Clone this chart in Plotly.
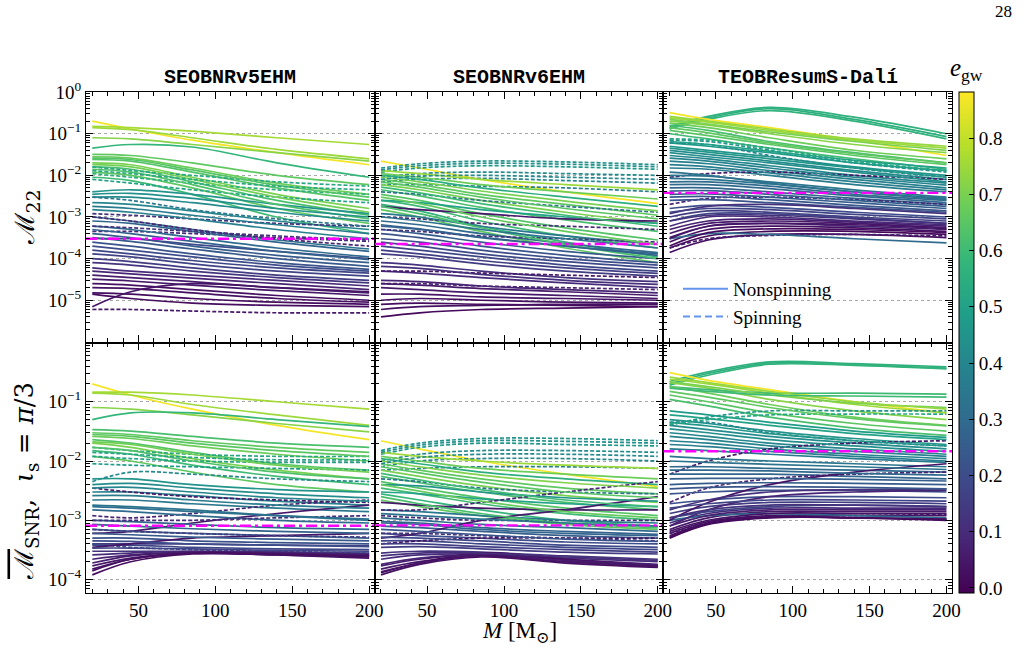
import plotly.graph_objects as go
from plotly.subplots import make_subplots
from plotly.colors import sample_colorscale

# ---------------- data ----------------
MASS = [20, 45, 85, 140, 200]
MODELS = ["SEOBNRv5EHM", "SEOBNRv6EHM", "TEOBResumS-Dalí"]
E_MIN, E_MAX = -0.009, 0.882
CBAR_TICKS = [0, 0.1, 0.2, 0.3, 0.4, 0.5, 0.6, 0.7, 0.8]

# top row: M22 ; bottom row: Mbar_SNR (iota_s = pi/3)
MEDIAN_TOP = [3.0e-4, 2.25e-4, 3.8e-3]
MEDIAN_BOT = [8.1e-4, 8.2e-4, 1.46e-2]

# ---- SEOBNRv5EHM, M22 ----
ECC_V5_TOP = [0.87, 0.76, 0.75, 0.72, 0.58, 0.66, 0.68, 0.64, 0.70, 0.62, 0.66, 0.60, 0.52, 0.55, 0.50,
              0.45, 0.42, 0.40, 0.12, 0.38, 0.10, 0.33, 0.30, 0.25, 0.22, 0.18, 0.15, 0.10, 0.06, 0.03,
              0.02, 0.04, 0.02, 0.05, 0.20, 0.28, 0.08, 0.35,
              0.64, 0.69, 0.63, 0.53, 0.44, 0.36, 0.27, 0.24, 0.20, 0.17, 0.13, 0.08, 0.05, 0.03, 0.12]
SPIN_V5_TOP = [0, 0, 0, 0, 0, 0, 0, 0, 0, 0, 0, 0, 1, 1, 1,
               0, 0, 0, 1, 0, 1, 0, 0, 0, 0, 0, 0, 0, 0, 0,
               0, 0, 0, 1, 0, 0, 1, 1,
               0, 0, 0, 1, 0, 0, 0, 0, 0, 0, 0, 0, 0, 0, 1]
VAL_V5_TOP = [
    [2.0e-1, 1.3e-1, 7.0e-2, 3.5e-2, 1.8e-2],
    [1.5e-1, 1.4e-1, 1.15e-1, 8.0e-2, 5.5e-2],
    [1.4e-1, 1.25e-1, 8.0e-2, 4.2e-2, 2.5e-2],
    [8.0e-2, 7.5e-2, 5.5e-2, 3.5e-2, 2.2e-2],
    [4.5e-2, 5.5e-2, 4.8e-2, 2.0e-2, 9.0e-3],
    [3.2e-2, 3.0e-2, 2.0e-2, 1.0e-2, 6.0e-3],
    [2.8e-2, 2.6e-2, 1.5e-2, 6.5e-3, 3.5e-3],
    [2.4e-2, 2.2e-2, 1.2e-2, 5.0e-3, 2.5e-3],
    [2.0e-2, 1.8e-2, 9.0e-3, 3.5e-3, 1.6e-3],
    [1.6e-2, 1.4e-2, 7.0e-3, 2.5e-3, 1.1e-3],
    [1.2e-2, 1.0e-2, 5.0e-3, 1.6e-3, 7.0e-4],
    [9.0e-3, 7.5e-3, 3.5e-3, 1.0e-3, 4.0e-4],
    [1.6e-2, 1.3e-2, 1.0e-2, 7.0e-3, 5.5e-3],
    [1.1e-2, 9.0e-3, 6.5e-3, 4.5e-3, 3.5e-3],
    [8.0e-3, 6.5e-3, 4.5e-3, 3.0e-3, 2.2e-3],
    [4.0e-3, 4.5e-3, 3.5e-3, 2.0e-3, 1.2e-3],
    [3.0e-3, 3.0e-3, 2.2e-3, 1.3e-3, 8.0e-4],
    [2.2e-3, 2.0e-3, 1.4e-3, 8.0e-4, 5.0e-4],
    [1.2e-3, 1.1e-3, 9.0e-4, 7.0e-4, 6.0e-4],
    [1.5e-3, 1.3e-3, 9.0e-4, 5.0e-4, 3.0e-4],
    [4.5e-4, 4.5e-4, 4.0e-4, 3.2e-4, 2.6e-4],
    [1.0e-3, 8.0e-4, 5.0e-4, 2.8e-4, 1.7e-4],
    [6.0e-4, 5.0e-4, 3.2e-4, 1.8e-4, 1.1e-4],
    [4.0e-4, 3.2e-4, 2.0e-4, 1.2e-4, 8.0e-5],
    [2.5e-4, 2.0e-4, 1.3e-4, 8.0e-5, 5.5e-5],
    [1.6e-4, 1.3e-4, 9.0e-5, 6.0e-5, 4.5e-5],
    [1.0e-4, 8.5e-5, 6.0e-5, 4.0e-5, 3.0e-5],
    [6.0e-5, 5.0e-5, 4.0e-5, 3.0e-5, 2.2e-5],
    [4.0e-5, 3.5e-5, 2.8e-5, 2.0e-5, 1.5e-5],
    [2.5e-5, 2.3e-5, 1.8e-5, 1.3e-5, 1.0e-5],
    [1.5e-5, 1.4e-5, 1.1e-5, 9.0e-6, 8.0e-6],
    [7.0e-6, 1.6e-5, 2.5e-5, 2.0e-5, 1.6e-5],
    [1.4e-5, 1.1e-5, 8.5e-6, 7.5e-6, 7.0e-6],
    [6.0e-6, 6.0e-6, 5.5e-6, 5.0e-6, 5.0e-6],
    [3.0e-4, 3.0e-4, 2.2e-4, 1.5e-4, 1.0e-4],
    [8.0e-4, 7.0e-4, 4.5e-4, 2.5e-4, 1.5e-4],
    [1.0e-3, 8.0e-4, 5.0e-4, 3.0e-4, 2.0e-4],
    [3.0e-3, 2.5e-3, 1.5e-3, 9.0e-4, 6.0e-4],
    [2.6e-2, 2.4e-2, 1.35e-2, 5.8e-3, 3.0e-3],
    [1.8e-2, 1.6e-2, 8.0e-3, 3.0e-3, 1.3e-3],
    [1.4e-2, 1.2e-2, 6.0e-3, 2.0e-3, 9.0e-4],
    [1.3e-2, 1.1e-2, 8.0e-3, 5.5e-3, 4.5e-3],
    [3.5e-3, 3.7e-3, 2.8e-3, 1.6e-3, 1.0e-3],
    [1.8e-3, 1.6e-3, 1.1e-3, 6.5e-4, 4.0e-4],
    [5.0e-4, 4.0e-4, 2.6e-4, 1.5e-4, 9.5e-5],
    [3.2e-4, 2.6e-4, 1.7e-4, 1.0e-4, 6.5e-5],
    [2.0e-4, 1.6e-4, 1.1e-4, 7.0e-5, 5.0e-5],
    [1.3e-4, 1.1e-4, 7.5e-5, 5.0e-5, 3.8e-5],
    [8.0e-5, 7.0e-5, 5.0e-5, 3.5e-5, 2.6e-5],
    [5.0e-5, 4.3e-5, 3.4e-5, 2.5e-5, 1.8e-5],
    [3.2e-5, 2.9e-5, 2.3e-5, 1.7e-5, 1.3e-5],
    [2.0e-5, 1.9e-5, 1.5e-5, 1.1e-5, 9.0e-6],
    [6.0e-4, 5.5e-4, 4.5e-4, 3.5e-4, 2.8e-4],
]

# ---- SEOBNRv6EHM, M22 ----
ECC_V6_TOP = [0.87, 0.45, 0.47, 0.42, 0.40, 0.38, 0.75, 0.68, 0.55, 0.66, 0.70, 0.62, 0.64, 0.60, 0.58,
              0.66, 0.50, 0.05, 0.10, 0.35, 0.30, 0.25, 0.20, 0.18, 0.15, 0.12, 0.10, 0.08, 0.05, 0.03,
              0.02, 0.03, 0.01, 0.08, 0.33, 0.28, 0.12, 0.05,
              0.70, 0.65, 0.60, 0.67, 0.62, 0.44, 0.41, 0.33, 0.27, 0.22, 0.19, 0.16, 0.11, 0.06, 0.04]
SPIN_V6_TOP = [0, 1, 1, 1, 1, 1, 0, 0, 0, 0, 0, 0, 0, 0, 0,
               0, 0, 0, 1, 0, 0, 0, 0, 0, 0, 0, 0, 0, 0, 0,
               0, 0, 0, 1, 1, 0, 1, 1,
               0, 0, 0, 0, 0, 1, 1, 0, 0, 0, 0, 0, 0, 0, 0]
VAL_V6_TOP = [
    [2.2e-2, 1.5e-2, 8.0e-3, 4.0e-3, 2.1e-3],
    [1.5e-2, 1.9e-2, 2.2e-2, 2.1e-2, 1.8e-2],
    [1.2e-2, 1.5e-2, 1.7e-2, 1.6e-2, 1.4e-2],
    [9.0e-3, 1.1e-2, 1.2e-2, 1.1e-2, 1.0e-2],
    [7.0e-3, 8.0e-3, 8.5e-3, 7.5e-3, 6.5e-3],
    [6.0e-3, 6.0e-3, 5.5e-3, 5.0e-3, 4.0e-3],
    [1.3e-2, 1.1e-2, 8.0e-3, 6.0e-3, 4.5e-3],
    [1.1e-2, 9.0e-3, 6.0e-3, 4.0e-3, 2.7e-3],
    [1.0e-2, 8.0e-3, 5.0e-3, 3.0e-3, 1.8e-3],
    [8.0e-3, 6.0e-3, 3.5e-3, 2.0e-3, 1.1e-3],
    [6.0e-3, 4.5e-3, 2.5e-3, 1.3e-3, 7.0e-4],
    [4.5e-3, 3.2e-3, 1.7e-3, 8.5e-4, 4.5e-4],
    [3.5e-3, 2.5e-3, 1.2e-3, 5.5e-4, 2.8e-4],
    [2.5e-3, 1.8e-3, 8.0e-4, 3.5e-4, 1.8e-4],
    [2.0e-3, 1.4e-3, 6.0e-4, 2.5e-4, 1.1e-4],
    [1.5e-3, 1.0e-3, 4.5e-4, 1.8e-4, 8.0e-5],
    [2.5e-3, 2.2e-3, 1.5e-3, 1.0e-3, 7.0e-4],
    [1.8e-3, 1.5e-3, 1.2e-3, 9.0e-4, 8.0e-4],
    [1.0e-3, 9.0e-4, 7.0e-4, 6.0e-4, 5.0e-4],
    [1.2e-3, 1.0e-3, 6.0e-4, 3.5e-4, 2.2e-4],
    [8.0e-4, 6.5e-4, 4.0e-4, 2.3e-4, 1.4e-4],
    [5.0e-4, 4.0e-4, 2.5e-4, 1.5e-4, 1.0e-4],
    [3.0e-4, 2.5e-4, 1.6e-4, 1.0e-4, 7.0e-5],
    [2.0e-4, 1.6e-4, 1.1e-4, 7.0e-5, 5.0e-5],
    [1.3e-4, 1.1e-4, 7.5e-5, 5.0e-5, 3.8e-5],
    [8.0e-5, 7.0e-5, 5.0e-5, 3.5e-5, 2.8e-5],
    [5.0e-5, 4.5e-5, 3.5e-5, 2.6e-5, 2.0e-5],
    [3.0e-5, 2.8e-5, 2.2e-5, 1.8e-5, 1.5e-5],
    [2.0e-5, 1.8e-5, 1.5e-5, 1.3e-5, 1.1e-5],
    [1.0e-5, 1.1e-5, 1.0e-5, 9.0e-6, 8.5e-6],
    [8.0e-6, 8.5e-6, 8.0e-6, 7.5e-6, 7.0e-6],
    [6.0e-6, 7.0e-6, 7.5e-6, 8.0e-6, 8.0e-6],
    [4.0e-6, 5.0e-6, 6.0e-6, 6.5e-6, 7.0e-6],
    [2.5e-5, 2.5e-5, 2.2e-5, 2.0e-5, 1.8e-5],
    [4.0e-3, 3.5e-3, 2.5e-3, 1.8e-3, 1.3e-3],
    [6.0e-4, 5.0e-4, 3.2e-4, 2.0e-4, 1.3e-4],
    [5.0e-4, 4.5e-4, 3.5e-4, 3.0e-4, 2.5e-4],
    [5.0e-5, 5.0e-5, 4.5e-5, 4.0e-5, 3.5e-5],
    [9.0e-3, 7.0e-3, 4.2e-3, 2.4e-3, 1.4e-3],
    [7.0e-3, 5.2e-3, 3.0e-3, 1.6e-3, 9.0e-4],
    [5.2e-3, 3.8e-3, 2.1e-3, 1.1e-3, 6.0e-4],
    [3.0e-3, 2.1e-3, 1.0e-3, 4.5e-4, 2.2e-4],
    [1.8e-3, 1.2e-3, 5.5e-4, 2.2e-4, 1.0e-4],
    [1.35e-2, 1.7e-2, 1.95e-2, 1.85e-2, 1.6e-2],
    [8.0e-3, 9.5e-3, 1.0e-2, 9.0e-3, 8.0e-3],
    [1.0e-3, 8.0e-4, 5.0e-4, 3.0e-4, 1.8e-4],
    [6.5e-4, 5.2e-4, 3.3e-4, 2.0e-4, 1.2e-4],
    [4.0e-4, 3.2e-4, 2.0e-4, 1.2e-4, 8.0e-5],
    [2.5e-4, 2.0e-4, 1.3e-4, 8.5e-5, 6.0e-5],
    [1.6e-4, 1.3e-4, 9.0e-5, 6.0e-5, 4.4e-5],
    [6.5e-5, 5.8e-5, 4.2e-5, 3.0e-5, 2.4e-5],
    [2.5e-5, 2.3e-5, 1.9e-5, 1.6e-5, 1.3e-5],
    [1.4e-5, 1.4e-5, 1.2e-5, 1.1e-5, 1.0e-5],
]

# ---- TEOBResumS-Dali, M22 ----
ECC_TE_TOP = [0.56, 0.55, 0.57, 0.87, 0.75, 0.72, 0.68, 0.65, 0.60, 0.45, 0.48, 0.45, 0.42, 0.40, 0.38,
              0.36, 0.05, 0.34, 0.30, 0.28, 0.08, 0.25, 0.22, 0.20, 0.15, 0.10, 0.05, 0.03, 0.01, 0.02,
              0.06, 0.30, 0.12, 0.08, 0.18, 0.40, 0.32, 0.62, 0.70,
              0.50, 0.46, 0.43, 0.39, 0.37, 0.33, 0.29, 0.26, 0.23, 0.17, 0.12, 0.07, 0.04, 0.02,
              0.52, 0.66, 0.74]
SPIN_TE_TOP = [0, 0, 0, 0, 0, 0, 0, 0, 0, 1, 0, 0, 0, 0, 0,
               0, 1, 0, 0, 0, 1, 0, 0, 0, 0, 0, 0, 0, 0, 0,
               1, 0, 0, 0, 0, 1, 0, 0, 0,
               0, 0, 0, 0, 0, 0, 0, 0, 0, 0, 0, 0, 0, 0,
               1, 0, 0]
VAL_TE_TOP = [
    [1.5e-1, 2.6e-1, 4.3e-1, 2.5e-1, 1.0e-1],
    [1.4e-1, 2.4e-1, 4.0e-1, 2.2e-1, 8.5e-2],
    [1.3e-1, 2.2e-1, 3.6e-1, 2.0e-1, 7.5e-2],
    [3.2e-1, 2.2e-1, 1.4e-1, 7.0e-2, 3.0e-2],
    [2.4e-1, 1.9e-1, 1.2e-1, 7.0e-2, 4.5e-2],
    [2.0e-1, 1.6e-1, 1.0e-1, 5.5e-2, 3.5e-2],
    [1.8e-1, 1.4e-1, 8.0e-2, 4.0e-2, 2.5e-2],
    [1.2e-1, 9.0e-2, 5.5e-2, 3.0e-2, 1.8e-2],
    [1.0e-1, 7.5e-2, 4.5e-2, 2.5e-2, 1.4e-2],
    [7.0e-2, 6.5e-2, 4.0e-2, 2.0e-2, 1.2e-2],
    [6.0e-2, 5.0e-2, 3.5e-2, 2.0e-2, 1.3e-2],
    [5.0e-2, 4.0e-2, 2.8e-2, 1.6e-2, 1.0e-2],
    [4.0e-2, 3.2e-2, 2.2e-2, 1.3e-2, 8.0e-3],
    [3.0e-2, 2.5e-2, 1.7e-2, 1.0e-2, 6.5e-3],
    [2.2e-2, 1.9e-2, 1.3e-2, 8.0e-3, 5.0e-3],
    [1.5e-2, 1.4e-2, 1.0e-2, 6.0e-3, 4.0e-3],
    [9.0e-3, 1.1e-2, 1.2e-2, 1.0e-2, 8.0e-3],
    [1.0e-2, 9.5e-3, 7.0e-3, 4.5e-3, 3.0e-3],
    [7.0e-3, 7.0e-3, 5.5e-3, 3.5e-3, 2.5e-3],
    [5.0e-3, 5.0e-3, 4.0e-3, 2.8e-3, 2.0e-3],
    [2.0e-3, 2.8e-3, 3.0e-3, 2.6e-3, 2.0e-3],
    [3.5e-3, 3.6e-3, 3.0e-3, 2.2e-3, 1.6e-3],
    [2.5e-3, 2.6e-3, 2.2e-3, 1.7e-3, 1.3e-3],
    [1.6e-3, 1.9e-3, 1.7e-3, 1.3e-3, 1.0e-3],
    [1.0e-3, 1.4e-3, 1.3e-3, 1.0e-3, 8.0e-4],
    [6.0e-4, 1.0e-3, 1.0e-3, 8.0e-4, 6.5e-4],
    [4.0e-4, 7.0e-4, 8.0e-4, 7.0e-4, 5.5e-4],
    [2.5e-4, 5.0e-4, 6.0e-4, 5.5e-4, 4.5e-4],
    [1.8e-4, 3.5e-4, 4.5e-4, 4.5e-4, 3.8e-4],
    [1.4e-4, 2.8e-4, 3.8e-4, 3.8e-4, 3.2e-4],
    [1.8e-4, 3.0e-4, 3.6e-4, 3.8e-4, 3.5e-4],
    [3.0e-4, 4.0e-4, 3.8e-4, 3.0e-4, 2.4e-4],
    [1.2e-3, 1.8e-3, 2.0e-3, 1.6e-3, 1.2e-3],
    [3.0e-4, 6.0e-4, 7.0e-4, 6.0e-4, 5.0e-4],
    [8.0e-4, 1.2e-3, 1.2e-3, 9.5e-4, 7.0e-4],
    [6.0e-2, 5.5e-2, 3.0e-2, 1.5e-2, 9.0e-3],
    [1.2e-2, 1.0e-2, 6.5e-3, 4.0e-3, 2.6e-3],
    [1.6e-1, 1.2e-1, 6.5e-2, 3.5e-2, 2.0e-2],
    [2.2e-1, 1.7e-1, 1.1e-1, 6.5e-2, 4.0e-2],
    [6.5e-2, 5.5e-2, 3.8e-2, 2.3e-2, 1.5e-2],
    [4.5e-2, 3.6e-2, 2.5e-2, 1.5e-2, 9.0e-3],
    [3.5e-2, 2.8e-2, 2.0e-2, 1.2e-2, 7.0e-3],
    [2.6e-2, 2.2e-2, 1.5e-2, 9.0e-3, 5.8e-3],
    [1.8e-2, 1.6e-2, 1.15e-2, 7.0e-3, 4.5e-3],
    [8.5e-3, 8.0e-3, 6.2e-3, 4.0e-3, 2.8e-3],
    [6.0e-3, 6.0e-3, 4.8e-3, 3.2e-3, 2.2e-3],
    [4.2e-3, 4.3e-3, 3.5e-3, 2.5e-3, 1.8e-3],
    [3.0e-3, 3.1e-3, 2.6e-3, 1.9e-3, 1.4e-3],
    [1.3e-3, 1.6e-3, 1.5e-3, 1.15e-3, 9.0e-4],
    [8.0e-4, 1.1e-3, 1.1e-3, 9.0e-4, 7.0e-4],
    [5.0e-4, 8.0e-4, 9.0e-4, 7.5e-4, 6.0e-4],
    [3.2e-4, 6.0e-4, 7.0e-4, 6.5e-4, 5.2e-4],
    [2.0e-4, 4.2e-4, 5.2e-4, 5.0e-4, 4.2e-4],
    [7.5e-2, 7.0e-2, 4.5e-2, 2.2e-2, 1.3e-2],
    [1.4e-1, 1.05e-1, 6.0e-2, 3.3e-2, 2.0e-2],
    [2.6e-1, 2.0e-1, 1.3e-1, 7.5e-2, 5.0e-2],
]

# ---- SEOBNRv5EHM, Mbar_SNR ----
ECC_V5_BOT = [0.87, 0.76, 0.75, 0.72, 0.58, 0.62, 0.66, 0.68, 0.64, 0.70, 0.60, 0.66, 0.52, 0.50, 0.48,
              0.42, 0.42, 0.38, 0.05, 0.35, 0.08, 0.05, 0.30, 0.28, 0.10, 0.25, 0.22, 0.18, 0.12, 0.08,
              0.05, 0.02, 0.03, 0.15, 0.20, 0.04, 0.33, 0.45,
              0.65, 0.69, 0.63, 0.51, 0.40, 0.36, 0.32, 0.27, 0.24, 0.20, 0.17, 0.10, 0.06, 0.03, 0.15]
SPIN_V5_BOT = [0, 0, 0, 0, 0, 0, 0, 0, 0, 0, 0, 0, 1, 1, 1,
               1, 0, 0, 1, 0, 1, 0, 0, 0, 1, 0, 0, 0, 0, 0,
               0, 0, 0, 0, 1, 0, 0, 0,
               0, 0, 0, 1, 0, 0, 0, 0, 0, 0, 0, 0, 0, 0, 1]
VAL_V5_BOT = [
    [2.0e-1, 1.3e-1, 7.5e-2, 4.0e-2, 2.3e-2],
    [1.45e-1, 1.45e-1, 1.3e-1, 1.0e-1, 7.5e-2],
    [1.4e-1, 1.3e-1, 9.0e-2, 6.0e-2, 4.0e-2],
    [8.0e-2, 7.5e-2, 6.0e-2, 4.3e-2, 3.1e-2],
    [5.0e-2, 6.5e-2, 6.5e-2, 5.0e-2, 3.8e-2],
    [3.4e-2, 3.2e-2, 2.6e-2, 2.0e-2, 1.7e-2],
    [3.0e-2, 2.8e-2, 2.2e-2, 1.7e-2, 1.4e-2],
    [2.6e-2, 2.4e-2, 1.8e-2, 1.3e-2, 1.0e-2],
    [2.3e-2, 2.0e-2, 1.4e-2, 9.0e-3, 7.0e-3],
    [2.0e-2, 1.7e-2, 1.1e-2, 7.0e-3, 5.0e-3],
    [1.5e-2, 1.3e-2, 8.5e-3, 5.5e-3, 4.0e-3],
    [1.2e-2, 1.0e-2, 6.5e-3, 4.0e-3, 3.0e-3],
    [1.7e-2, 1.5e-2, 1.3e-2, 1.2e-2, 1.2e-2],
    [1.2e-2, 1.1e-2, 1.0e-2, 9.5e-3, 9.5e-3],
    [9.0e-3, 8.5e-3, 8.0e-3, 7.5e-3, 7.0e-3],
    [4.5e-3, 6.5e-3, 6.0e-3, 5.0e-3, 4.5e-3],
    [4.0e-3, 4.2e-3, 3.5e-3, 2.8e-3, 2.4e-3],
    [3.0e-3, 3.0e-3, 2.6e-3, 2.1e-3, 1.8e-3],
    [3.5e-3, 3.0e-3, 2.5e-3, 2.2e-3, 2.0e-3],
    [2.2e-3, 2.2e-3, 1.9e-3, 1.6e-3, 1.4e-3],
    [1.2e-3, 1.1e-3, 1.3e-3, 1.8e-3, 2.2e-3],
    [6.0e-4, 6.5e-4, 9.0e-4, 1.3e-3, 1.8e-3],
    [1.5e-3, 1.4e-3, 1.2e-3, 1.0e-3, 9.0e-4],
    [1.0e-3, 9.5e-4, 8.5e-4, 7.5e-4, 7.0e-4],
    [1.0e-3, 1.0e-3, 1.0e-3, 1.1e-3, 1.2e-3],
    [7.0e-4, 6.5e-4, 6.0e-4, 5.5e-4, 5.0e-4],
    [5.0e-4, 5.0e-4, 4.5e-4, 4.2e-4, 4.0e-4],
    [3.8e-4, 3.8e-4, 3.5e-4, 3.3e-4, 3.2e-4],
    [3.0e-4, 3.0e-4, 3.0e-4, 2.9e-4, 2.8e-4],
    [2.2e-4, 2.6e-4, 2.9e-4, 2.8e-4, 2.6e-4],
    [1.7e-4, 2.3e-4, 2.8e-4, 2.7e-4, 2.5e-4],
    [1.2e-4, 2.0e-4, 2.7e-4, 2.6e-4, 2.4e-4],
    [1.4e-4, 2.2e-4, 2.8e-4, 2.6e-4, 2.3e-4],
    [4.0e-4, 4.0e-4, 4.0e-4, 3.8e-4, 3.7e-4],
    [4.0e-4, 3.5e-4, 3.2e-4, 3.0e-4, 2.8e-4],
    [3.5e-4, 4.0e-4, 5.0e-4, 5.5e-4, 6.0e-4],
    [1.8e-3, 1.7e-3, 1.5e-3, 1.2e-3, 1.0e-3],
    [5.0e-3, 5.0e-3, 4.0e-3, 3.3e-3, 3.0e-3],
    [2.8e-2, 2.6e-2, 2.0e-2, 1.5e-2, 1.2e-2],
    [2.1e-2, 1.9e-2, 1.3e-2, 8.5e-3, 6.5e-3],
    [1.7e-2, 1.5e-2, 1.0e-2, 6.5e-3, 5.0e-3],
    [1.4e-2, 1.3e-2, 1.15e-2, 1.05e-2, 1.05e-2],
    [3.5e-3, 3.6e-3, 3.0e-3, 2.4e-3, 2.1e-3],
    [2.6e-3, 2.6e-3, 2.2e-3, 1.8e-3, 1.6e-3],
    [1.7e-3, 1.6e-3, 1.4e-3, 1.2e-3, 1.05e-3],
    [8.5e-4, 8.0e-4, 7.2e-4, 6.5e-4, 6.0e-4],
    [6.0e-4, 5.7e-4, 5.2e-4, 4.8e-4, 4.5e-4],
    [4.5e-4, 4.4e-4, 4.0e-4, 3.8e-4, 3.6e-4],
    [3.4e-4, 3.4e-4, 3.3e-4, 3.1e-4, 3.0e-4],
    [2.6e-4, 2.8e-4, 3.0e-4, 2.9e-4, 2.7e-4],
    [1.9e-4, 2.5e-4, 2.9e-4, 2.8e-4, 2.6e-4],
    [1.5e-4, 2.2e-4, 2.8e-4, 2.7e-4, 2.5e-4],
    [7.0e-4, 6.5e-4, 6.0e-4, 5.5e-4, 5.2e-4],
]

# ---- SEOBNRv6EHM, Mbar_SNR ----
ECC_V6_BOT = [0.87, 0.45, 0.47, 0.42, 0.40, 0.38, 0.75, 0.68, 0.55, 0.66, 0.70, 0.62, 0.64, 0.60, 0.58,
              0.66, 0.50, 0.05, 0.10, 0.35, 0.30, 0.25, 0.20, 0.18, 0.15, 0.12, 0.10, 0.08, 0.05, 0.03,
              0.02, 0.04, 0.06, 0.08, 0.33, 0.28, 0.12, 0.45,
              0.71, 0.65, 0.60, 0.67, 0.62, 0.44, 0.41, 0.33, 0.27, 0.22, 0.19, 0.16, 0.11, 0.06, 0.04]
SPIN_V6_BOT = [0, 1, 1, 1, 1, 1, 0, 0, 0, 0, 0, 0, 0, 0, 0,
               0, 0, 0, 1, 0, 0, 0, 0, 0, 0, 0, 0, 0, 0, 0,
               0, 1, 0, 1, 1, 0, 1, 0,
               0, 0, 0, 0, 0, 1, 1, 0, 0, 0, 0, 0, 0, 0, 0]
VAL_V6_BOT = [
    [2.2e-2, 1.6e-2, 1.0e-2, 6.0e-3, 3.7e-3],
    [1.5e-2, 2.0e-2, 2.4e-2, 2.4e-2, 2.2e-2],
    [1.3e-2, 1.7e-2, 2.0e-2, 1.9e-2, 1.8e-2],
    [1.0e-2, 1.3e-2, 1.5e-2, 1.5e-2, 1.4e-2],
    [8.0e-3, 1.0e-2, 1.1e-2, 1.1e-2, 1.0e-2],
    [7.0e-3, 7.5e-3, 8.0e-3, 8.0e-3, 7.5e-3],
    [1.4e-2, 1.2e-2, 1.0e-2, 8.5e-3, 7.5e-3],
    [1.2e-2, 1.0e-2, 7.5e-3, 6.0e-3, 5.0e-3],
    [1.1e-2, 9.0e-3, 6.5e-3, 5.0e-3, 4.0e-3],
    [9.0e-3, 7.0e-3, 5.0e-3, 3.5e-3, 2.8e-3],
    [7.0e-3, 5.5e-3, 3.8e-3, 2.6e-3, 2.0e-3],
    [5.5e-3, 4.3e-3, 3.0e-3, 2.0e-3, 1.5e-3],
    [4.5e-3, 3.5e-3, 2.4e-3, 1.6e-3, 1.2e-3],
    [3.5e-3, 2.8e-3, 1.9e-3, 1.3e-3, 1.0e-3],
    [2.8e-3, 2.2e-3, 1.5e-3, 1.0e-3, 8.0e-4],
    [2.2e-3, 1.7e-3, 1.2e-3, 8.5e-4, 7.0e-4],
    [3.0e-3, 2.8e-3, 2.3e-3, 1.9e-3, 1.7e-3],
    [2.0e-3, 1.8e-3, 1.6e-3, 1.5e-3, 1.5e-3],
    [1.2e-3, 1.1e-3, 1.0e-3, 1.0e-3, 1.0e-3],
    [1.5e-3, 1.4e-3, 1.2e-3, 1.0e-3, 9.0e-4],
    [1.1e-3, 1.0e-3, 8.5e-4, 7.5e-4, 6.5e-4],
    [8.0e-4, 7.5e-4, 6.5e-4, 5.5e-4, 5.0e-4],
    [6.0e-4, 5.5e-4, 5.0e-4, 4.3e-4, 4.0e-4],
    [4.5e-4, 4.5e-4, 4.0e-4, 3.5e-4, 3.2e-4],
    [3.5e-4, 3.6e-4, 3.3e-4, 2.9e-4, 2.7e-4],
    [2.8e-4, 3.0e-4, 2.9e-4, 2.5e-4, 2.2e-4],
    [2.2e-4, 2.6e-4, 2.7e-4, 2.3e-4, 2.0e-4],
    [1.8e-4, 2.3e-4, 2.6e-4, 2.2e-4, 1.8e-4],
    [1.5e-4, 2.0e-4, 2.5e-4, 2.0e-4, 1.7e-4],
    [1.2e-4, 1.8e-4, 2.4e-4, 1.9e-4, 1.6e-4],
    [1.3e-4, 1.9e-4, 2.8e-4, 2.2e-4, 1.7e-4],
    [4.0e-4, 4.5e-4, 5.0e-4, 5.0e-4, 5.0e-4],
    [5.0e-4, 6.0e-4, 1.0e-3, 1.5e-3, 2.5e-3],
    [1.5e-3, 1.5e-3, 2.0e-3, 3.0e-3, 4.5e-3],
    [5.0e-3, 4.5e-3, 3.5e-3, 3.0e-3, 2.8e-3],
    [9.0e-4, 8.5e-4, 7.0e-4, 6.0e-4, 5.5e-4],
    [6.0e-4, 6.0e-4, 5.5e-4, 5.0e-4, 4.5e-4],
    [4.0e-3, 3.8e-3, 3.0e-3, 2.4e-3, 2.1e-3],
    [1.0e-2, 8.0e-3, 5.8e-3, 4.3e-3, 3.5e-3],
    [8.0e-3, 6.3e-3, 4.4e-3, 3.0e-3, 2.4e-3],
    [6.2e-3, 4.8e-3, 3.3e-3, 2.2e-3, 1.7e-3],
    [4.0e-3, 3.1e-3, 2.1e-3, 1.4e-3, 1.1e-3],
    [2.5e-3, 1.9e-3, 1.3e-3, 9.0e-4, 7.5e-4],
    [1.4e-2, 1.85e-2, 2.2e-2, 2.15e-2, 2.0e-2],
    [9.0e-3, 1.15e-2, 1.3e-2, 1.3e-2, 1.2e-2],
    [1.3e-3, 1.2e-3, 1.05e-3, 9.0e-4, 8.0e-4],
    [9.5e-4, 9.0e-4, 7.5e-4, 6.5e-4, 5.8e-4],
    [7.0e-4, 6.5e-4, 5.7e-4, 4.8e-4, 4.4e-4],
    [5.2e-4, 5.0e-4, 4.5e-4, 3.8e-4, 3.5e-4],
    [4.0e-4, 4.0e-4, 3.6e-4, 3.2e-4, 2.9e-4],
    [2.5e-4, 2.8e-4, 2.8e-4, 2.4e-4, 2.1e-4],
    [1.7e-4, 2.2e-4, 2.6e-4, 2.1e-4, 1.75e-4],
    [1.35e-4, 1.9e-4, 2.5e-4, 2.0e-4, 1.65e-4],
]

# ---- TEOBResumS-Dali, Mbar_SNR ----
ECC_TE_BOT = [0.56, 0.55, 0.57, 0.87, 0.75, 0.72, 0.60, 0.68, 0.65, 0.62, 0.45, 0.48, 0.45, 0.42, 0.40,
              0.38, 0.36, 0.05, 0.34, 0.30, 0.28, 0.08, 0.25, 0.22, 0.20, 0.15, 0.10, 0.05, 0.03, 0.01,
              0.02, 0.06, 0.30, 0.04, 0.12, 0.40, 0.08, 0.18, 0.70,
              0.50, 0.46, 0.43, 0.39, 0.37, 0.33, 0.29, 0.26, 0.23, 0.17, 0.12, 0.07, 0.04, 0.02,
              0.52, 0.66, 0.74, 0.60]
SPIN_TE_BOT = [0, 0, 0, 0, 0, 0, 0, 0, 0, 0, 1, 0, 0, 0, 0,
               0, 0, 1, 0, 0, 0, 1, 0, 0, 0, 0, 0, 0, 0, 0,
               0, 1, 0, 0, 0, 1, 0, 0, 0,
               0, 0, 0, 0, 0, 0, 0, 0, 0, 0, 0, 0, 0, 0,
               1, 0, 0, 0]
VAL_TE_BOT = [
    [2.2e-1, 3.2e-1, 4.7e-1, 4.4e-1, 3.9e-1],
    [2.0e-1, 3.0e-1, 4.5e-1, 4.2e-1, 3.7e-1],
    [1.9e-1, 2.8e-1, 4.3e-1, 4.1e-1, 3.6e-1],
    [3.1e-1, 2.3e-1, 1.6e-1, 1.0e-1, 6.5e-2],
    [2.4e-1, 2.0e-1, 1.4e-1, 9.0e-2, 6.5e-2],
    [2.1e-1, 1.7e-1, 1.1e-1, 7.0e-2, 5.0e-2],
    [1.8e-1, 1.6e-1, 1.4e-1, 1.4e-1, 1.35e-1],
    [1.8e-1, 1.4e-1, 9.0e-2, 5.5e-2, 4.0e-2],
    [1.3e-1, 1.0e-1, 6.5e-2, 4.3e-2, 3.2e-2],
    [1.1e-1, 8.5e-2, 5.5e-2, 3.6e-2, 2.7e-2],
    [4.0e-2, 5.5e-2, 7.0e-2, 7.0e-2, 7.0e-2],
    [7.0e-2, 6.0e-2, 4.5e-2, 3.2e-2, 2.5e-2],
    [5.0e-2, 4.3e-2, 3.2e-2, 2.4e-2, 1.9e-2],
    [4.0e-2, 3.4e-2, 2.6e-2, 2.0e-2, 1.6e-2],
    [3.0e-2, 2.6e-2, 2.0e-2, 1.6e-2, 1.3e-2],
    [2.2e-2, 2.0e-2, 1.6e-2, 1.3e-2, 1.1e-2],
    [1.6e-2, 1.5e-2, 1.3e-2, 1.1e-2, 9.5e-3],
    [6.0e-3, 1.0e-2, 1.6e-2, 2.0e-2, 2.2e-2],
    [1.2e-2, 1.1e-2, 1.0e-2, 9.0e-3, 8.0e-3],
    [8.0e-3, 8.0e-3, 7.5e-3, 7.0e-3, 6.5e-3],
    [6.0e-3, 6.0e-3, 6.0e-3, 5.5e-3, 5.0e-3],
    [2.0e-3, 3.5e-3, 5.0e-3, 6.0e-3, 6.5e-3],
    [4.0e-3, 4.2e-3, 4.3e-3, 4.2e-3, 4.0e-3],
    [2.8e-3, 3.0e-3, 3.2e-3, 3.2e-3, 3.0e-3],
    [1.9e-3, 2.2e-3, 2.5e-3, 2.5e-3, 2.4e-3],
    [1.3e-3, 1.7e-3, 2.0e-3, 2.0e-3, 1.9e-3],
    [9.0e-4, 1.3e-3, 1.6e-3, 1.6e-3, 1.6e-3],
    [7.0e-4, 1.1e-3, 1.4e-3, 1.4e-3, 1.4e-3],
    [6.0e-4, 9.5e-4, 1.2e-3, 1.2e-3, 1.2e-3],
    [5.0e-4, 8.5e-4, 1.1e-3, 1.1e-3, 1.0e-3],
    [5.5e-4, 9.0e-4, 1.15e-3, 1.1e-3, 1.05e-3],
    [6.0e-4, 9.0e-4, 1.15e-3, 1.2e-3, 1.25e-3],
    [1.0e-3, 1.2e-3, 1.3e-3, 1.2e-3, 1.1e-3],
    [1.0e-3, 2.0e-3, 4.0e-3, 6.5e-3, 9.0e-3],
    [1.5e-3, 2.2e-3, 3.0e-3, 3.3e-3, 3.4e-3],
    [4.5e-2, 4.5e-2, 3.0e-2, 2.2e-2, 1.8e-2],
    [8.0e-4, 1.5e-3, 2.5e-3, 3.0e-3, 3.2e-3],
    [1.1e-3, 1.4e-3, 1.7e-3, 1.8e-3, 1.7e-3],
    [2.2e-1, 1.8e-1, 1.3e-1, 9.5e-2, 8.0e-2],
    [6.0e-2, 5.2e-2, 4.0e-2, 2.9e-2, 2.3e-2],
    [4.5e-2, 3.9e-2, 2.9e-2, 2.2e-2, 1.8e-2],
    [3.5e-2, 3.0e-2, 2.3e-2, 1.8e-2, 1.45e-2],
    [2.6e-2, 2.3e-2, 1.8e-2, 1.45e-2, 1.2e-2],
    [1.9e-2, 1.75e-2, 1.45e-2, 1.2e-2, 1.0e-2],
    [1.0e-2, 9.5e-3, 8.8e-3, 8.0e-3, 7.2e-3],
    [7.0e-3, 7.0e-3, 6.8e-3, 6.2e-3, 5.8e-3],
    [5.0e-3, 5.1e-3, 5.1e-3, 4.9e-3, 4.6e-3],
    [3.4e-3, 3.6e-3, 3.7e-3, 3.6e-3, 3.4e-3],
    [1.6e-3, 1.9e-3, 2.2e-3, 2.2e-3, 2.1e-3],
    [1.1e-3, 1.5e-3, 1.8e-3, 1.8e-3, 1.7e-3],
    [8.0e-4, 1.2e-3, 1.5e-3, 1.5e-3, 1.5e-3],
    [6.5e-4, 1.0e-3, 1.3e-3, 1.3e-3, 1.3e-3],
    [5.2e-4, 8.8e-4, 1.12e-3, 1.1e-3, 1.05e-3],
    [4.2e-2, 5.0e-2, 6.0e-2, 6.2e-2, 6.2e-2],
    [1.5e-1, 1.2e-1, 8.0e-2, 5.2e-2, 3.9e-2],
    [2.6e-1, 2.1e-1, 1.5e-1, 1.0e-1, 7.5e-2],
    [1.7e-1, 1.5e-1, 1.3e-1, 1.25e-1, 1.2e-1],
]

PANELS = [
    (1, 1, ECC_V5_TOP, SPIN_V5_TOP, VAL_V5_TOP, MEDIAN_TOP[0]),
    (1, 2, ECC_V6_TOP, SPIN_V6_TOP, VAL_V6_TOP, MEDIAN_TOP[1]),
    (1, 3, ECC_TE_TOP, SPIN_TE_TOP, VAL_TE_TOP, MEDIAN_TOP[2]),
    (2, 1, ECC_V5_BOT, SPIN_V5_BOT, VAL_V5_BOT, MEDIAN_BOT[0]),
    (2, 2, ECC_V6_BOT, SPIN_V6_BOT, VAL_V6_BOT, MEDIAN_BOT[1]),
    (2, 3, ECC_TE_BOT, SPIN_TE_BOT, VAL_TE_BOT, MEDIAN_BOT[2]),
]

# ---------------- styling ----------------
X_RANGE = [15.9, 203.6]
Y_RANGE_TOP = [-6.015, 0.002]
Y_RANGE_BOT = [-4.227, 0.0]
SERIF = "Liberation Serif, DejaVu Serif, serif"
MONO = "Liberation Mono, DejaVu Sans Mono, monospace"

def ecolor(e):
    return sample_colorscale("Viridis", [(e - E_MIN) / (E_MAX - E_MIN)])[0]

fig = make_subplots(rows=2, cols=3, horizontal_spacing=0, vertical_spacing=0)

for row, col, eccs, spins, vals, med in PANELS:
    for e, s, v in zip(eccs, spins, vals):
        fig.add_trace(go.Scatter(
            x=MASS, y=v, mode="lines", line_shape="spline",
            line=dict(color=ecolor(e), width=1.7, dash="4px,2px" if s else "solid"),
            showlegend=False, hoverinfo="skip"), row=row, col=col)
    fig.add_trace(go.Scatter(
        x=X_RANGE, y=[med, med], mode="lines",
        line=dict(color="#FF00FF", width=2.4, dash="11px,4px,3px,4px"),
        showlegend=False, hoverinfo="skip"), row=row, col=col)

# legend entries
fig.add_trace(go.Scatter(x=[None], y=[None], mode="lines", name="Nonspinning",
                         line=dict(color="#6495ED", width=2)), row=1, col=3)
fig.add_trace(go.Scatter(x=[None], y=[None], mode="lines", name="Spinning",
                         line=dict(color="#6495ED", width=2, dash="7px,4px")), row=1, col=3)

# colorbar carrier
fig.add_trace(go.Scatter(
    x=[100], y=[1e-3], mode="markers", showlegend=False, hoverinfo="skip",
    marker=dict(size=1, opacity=0, color=[0.4], colorscale="Viridis", cmin=E_MIN, cmax=E_MAX,
                showscale=True,
                colorbar=dict(x=1.0081, xanchor="left", xpad=0, ypad=0, y=0.5, yanchor="middle",
                              len=1.0, lenmode="fraction", thickness=15, outlinewidth=1,
                              outlinecolor="black", ticks="inside", ticklen=5, tickcolor="black",
                              tickvals=CBAR_TICKS, ticktext=["%.1f" % t for t in CBAR_TICKS],
                              tickfont=dict(family=SERIF, size=19, color="black")))),
    row=1, col=1)

def sup(k):
    return "10<sup>" + (str(k) if k >= 0 else "\u2212" + str(-k)) + "</sup>"

minor_vals = [m * 10.0 ** k for k in range(-7, 1) for m in range(2, 10)]
axis_common = dict(showline=True, linecolor="black", linewidth=1.2, mirror="allticks",
                   ticks="inside", tickcolor="black", tickwidth=1)

for row in (1, 2):
    for col in (1, 2, 3):
        fig.update_xaxes(range=X_RANGE, tickmode="linear", tick0=0, dtick=50, ticklen=7,
                         showgrid=False, zeroline=False,
                         showticklabels=(row == 2),
                         tickfont=dict(family=SERIF, size=19, color="black"),
                         minor=dict(ticks="inside", dtick=10, tick0=0, ticklen=4,
                                    tickcolor="black", showgrid=False),
                         row=row, col=col, **axis_common)
        if row == 1:
            kvals = [-5, -4, -3, -2, -1, 0]
            yr = Y_RANGE_TOP
        else:
            kvals = [-4, -3, -2, -1]
            yr = Y_RANGE_BOT
        fig.update_yaxes(type="log", range=yr, tickmode="array",
                         tickvals=[10.0 ** k for k in kvals], ticktext=[sup(k) for k in kvals],
                         ticklen=7, showgrid=True, gridcolor="#a8a8a8", gridwidth=0.8, griddash="dot",
                         zeroline=False, showticklabels=(col == 1),
                         tickfont=dict(family=SERIF, size=19, color="black"),
                         minor=dict(ticks="inside", tickvals=minor_vals, ticklen=4,
                                    tickcolor="black", showgrid=False),
                         row=row, col=col, **axis_common)

annotations = []
for i, name in enumerate(MODELS):
    annotations.append(dict(text="<b>" + name + "</b>", x=(2 * i + 1) / 6, y=1.0,
                            xref="paper", yref="paper",
                            xanchor="center", yanchor="bottom", yshift=1, showarrow=False,
                            font=dict(family=MONO, size=20, color="black")))
annotations += [
    dict(text="ℳ<sub>22</sub>", x=-0.069, y=0.75, xref="paper", yref="paper", textangle=-90,
         xanchor="center", yanchor="middle", showarrow=False,
         font=dict(family="DejaVu Serif", size=27, color="black")),
    dict(text="<span style='text-decoration:overline'>ℳ</span><sub>SNR</sub>,  <i>ι</i><sub>s</sub> = <i>π</i>/3",
         x=-0.069, y=0.224, xref="paper", yref="paper", textangle=-90,
         xanchor="center", yanchor="middle", showarrow=False,
         font=dict(family="DejaVu Serif", size=26, color="black")),
    dict(text="<i>M</i> [M<sub>⊙</sub>]", x=0.5, y=-0.078, xref="paper", yref="paper",
         xanchor="center", yanchor="middle", showarrow=False,
         font=dict(family=SERIF, size=23, color="black")),
    dict(text="<i>e</i><sub>gw</sub>", x=1.0173, y=1.044, xref="paper", yref="paper",
         xanchor="center", yanchor="middle", showarrow=False,
         font=dict(family=SERIF, size=25, color="black")),
    dict(text="28", x=1.059, y=1.16, xref="paper", yref="paper", xanchor="center",
         yanchor="middle", showarrow=False, font=dict(family=SERIF, size=17, color="black")),
]

fig.update_layout(
    width=1024, height=649,
    margin=dict(l=86, r=72, t=92, b=56),
    paper_bgcolor="white", plot_bgcolor="white",
    font=dict(family=SERIF, color="black"),
    annotations=annotations,
    showlegend=True,
    legend=dict(x=0.6836, y=0.645, xanchor="left", yanchor="top", bgcolor="rgba(0,0,0,0)",
                font=dict(family=SERIF, size=19, color="black"), tracegroupgap=2,
                itemwidth=45),
)

fig.write_html("out.html")
